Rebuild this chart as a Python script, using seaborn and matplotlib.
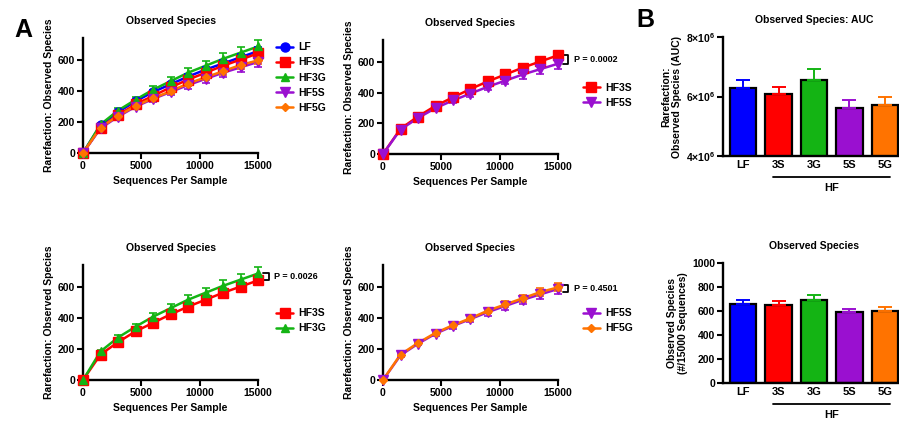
import numpy as np
import pandas as pd
import matplotlib
matplotlib.use("Agg")
import matplotlib.pyplot as plt
import matplotlib.transforms as mtransforms
from matplotlib.lines import Line2D
import seaborn as sns

# %% Data

depth = [0, 1500, 3000, 4500, 6000, 7500, 9000, 10500, 12000, 13500, 15000]

lf = [0, 180, 265, 335, 395, 445, 495, 540, 580, 620, 660]
hf3s = [0, 165, 245, 315, 370, 425, 475, 520, 565, 605, 645]
hf3g = [0, 185, 275, 345, 410, 465, 520, 565, 610, 650, 690]
hf5s = [0, 160, 235, 300, 350, 395, 440, 480, 520, 555, 590]
hf5g = [0, 165, 240, 305, 355, 400, 450, 490, 530, 570, 600]

lf_err = [0, 8, 10, 12, 14, 16, 18, 20, 22, 24, 26]
hf3s_err = [0, 8, 10, 12, 13, 15, 17, 19, 21, 23, 25]
hf3g_err = [0, 10, 14, 18, 22, 26, 30, 33, 36, 38, 42]
hf5s_err = [0, 8, 11, 14, 17, 20, 23, 25, 27, 30, 32]
hf5g_err = [0, 8, 10, 12, 14, 16, 18, 20, 22, 24, 26]

groups = ["LF", "HF3S", "HF3G", "HF5S", "HF5G"]
bar_labels = ["LF", "3S", "3G", "5S", "5G"]

auc = [6.30e6, 6.08e6, 6.55e6, 5.60e6, 5.70e6]
auc_err = [0.27e6, 0.25e6, 0.37e6, 0.27e6, 0.28e6]

obs15k = [660, 650, 690, 590, 600]
obs15k_err = [30, 30, 40, 30, 32]

colors = {"LF": "#0000ff", "HF3S": "#ff0000", "HF3G": "#14b414",
          "HF5S": "#9a10d0", "HF5G": "#ff7300"}
markers = {"LF": "o", "HF3S": "s", "HF3G": "^", "HF5S": "v", "HF5G": "D"}
msizes = {"LF": 6.5, "HF3S": 6.5, "HF3G": 5.5, "HF5S": 6.5, "HF5G": 4.5}

means = {"LF": lf, "HF3S": hf3s, "HF3G": hf3g, "HF5S": hf5s, "HF5G": hf5g}
errs = {"LF": lf_err, "HF3S": hf3s_err, "HF3G": hf3g_err,
        "HF5S": hf5s_err, "HF5G": hf5g_err}

rows = []
for g in groups:
    for d, v, e in zip(depth, means[g], errs[g]):
        rows.append({"depth": d, "obs": v, "err": e, "group": g})
df = pd.DataFrame(rows)

# %% Style

sns.set_theme(style="ticks")
plt.rcParams["font.family"] = ["Liberation Sans", "DejaVu Sans"]
plt.rcParams["font.weight"] = "bold"
plt.rcParams["axes.labelweight"] = "bold"
plt.rcParams["axes.titleweight"] = "bold"
plt.rcParams["text.color"] = "black"
plt.rcParams["axes.labelcolor"] = "black"
plt.rcParams["xtick.color"] = "black"
plt.rcParams["ytick.color"] = "black"
plt.rcParams["mathtext.fontset"] = "custom"
plt.rcParams["mathtext.bf"] = "Liberation Sans:bold"
plt.rcParams["mathtext.rm"] = "Liberation Sans:bold"

W, H = 899, 422
fig = plt.figure(figsize=(W / 100, H / 100), dpi=100)


def px_axes(x0, y_bottom, w, h):
    return fig.add_axes([x0 / W, (H - y_bottom) / H, w / W, h / H])


def style_axes(ax):
    sns.despine(ax=ax)
    for s in ["left", "bottom"]:
        ax.spines[s].set_linewidth(1.7)
        ax.spines[s].set_color("black")
    ax.tick_params(width=1.5, length=4, labelsize=7.5, pad=1.5, colors="black")
    for lab in ax.get_xticklabels() + ax.get_yticklabels():
        lab.set_fontweight("bold")


def rarefaction(ax, sub, legend_anchor, pval=None):
    d = df[df["group"].isin(sub)]
    sns.lineplot(data=d, x="depth", y="obs", hue="group", hue_order=sub,
                 palette=colors, ax=ax, linewidth=1.8, legend=False)
    for g in sub:
        gd = d[d["group"] == g]
        ax.errorbar(gd["depth"], gd["obs"], yerr=gd["err"], fmt=markers[g],
                    color=colors[g], ms=msizes[g], capsize=3, elinewidth=1.2,
                    capthick=1.2, clip_on=False, zorder=3)
    ax.set_xlim(0, 15000)
    ax.set_ylim(0, 745)
    ax.set_xticks([0, 5000, 10000, 15000])
    ax.set_yticks([0, 200, 400, 600])
    ax.set_xlabel("Sequences Per Sample", fontsize=7.5, labelpad=4)
    ax.set_ylabel("Rarefaction: Observed Species", fontsize=7.5, labelpad=3)
    ax.set_title("Observed Species", fontsize=7.5, pad=10)
    style_axes(ax)
    handles = [Line2D([], [], color=colors[g], marker=markers[g],
                      ms=msizes[g], lw=1.8) for g in sub]
    leg = ax.legend(handles, sub, loc="upper left", bbox_to_anchor=legend_anchor,
                    frameon=False, fontsize=7.5, handlelength=1.6,
                    handletextpad=0.5, labelspacing=0.5, borderaxespad=0)
    for t in leg.get_texts():
        t.set_fontweight("bold")
    if pval is not None:
        ends = [means[g][-1] for g in sub]
        mid = (max(ends) + min(ends)) / 2
        half = max((max(ends) - min(ends)) / 2, 22)
        xb = [15400, 15900, 15900, 15400]
        ax.plot(xb, [mid + half, mid + half, mid - half, mid - half],
                color="black", lw=1.3, clip_on=False)
        ax.text(16400, mid, "P = " + pval, fontsize=6.5,
                fontweight="bold", va="center", ha="left")


def bars(ax, vals, errv, ylim, yticks, ylabel, title, ticklabels=None):
    bd = pd.DataFrame({"label": bar_labels, "val": vals})
    sns.barplot(data=bd, x="label", y="val", hue="label",
                palette=[colors[g] for g in groups], saturation=1,
                edgecolor="black", linewidth=1.6, width=0.74, ax=ax,
                legend=False)
    for i, g in enumerate(groups):
        ax.errorbar(i, vals[i], yerr=[[0], [errv[i]]], fmt="none",
                    ecolor=colors[g], elinewidth=1.4, capsize=5, capthick=1.4,
                    zorder=1)
    ax.set_xlim(-0.57, 4.57)
    ax.set_ylim(*ylim)
    ax.set_yticks(yticks)
    if ticklabels is not None:
        ax.set_yticklabels(ticklabels)
    ax.set_xlabel("")
    ax.set_ylabel(ylabel, fontsize=7.5, labelpad=3, linespacing=1.1)
    ax.set_title(title, fontsize=7.5, pad=10)
    style_axes(ax)
    ax.tick_params(axis="x", length=0, labelsize=8, pad=3)
    trans = mtransforms.blended_transform_factory(ax.transData, ax.transAxes)
    ax.plot([0.85, 4.15], [-0.175, -0.175], color="black", lw=1.3,
            transform=trans, clip_on=False)
    ax.text(2.5, -0.27, "HF", transform=trans, ha="center", va="center",
            fontsize=8, fontweight="bold")


# %% Panel A

ax1 = px_axes(83, 153, 175, 115)
rarefaction(ax1, groups, (1.08, 1.0))

ax2 = px_axes(383, 154, 175, 114)
rarefaction(ax2, ["HF3S", "HF5S"], (1.12, 0.66), pval="0.0002")

ax3 = px_axes(83, 380, 175, 115)
rarefaction(ax3, ["HF3S", "HF3G"], (1.08, 0.66), pval="0.0026")

ax4 = px_axes(383, 380, 175, 115)
rarefaction(ax4, ["HF5S", "HF5G"], (1.12, 0.66), pval="0.4501")

# %% Panel B

axb1 = px_axes(723, 156, 182, 119)
bars(axb1, auc, auc_err, (4e6, 8e6), [4e6, 6e6, 8e6],
     "Rarefaction:\nObserved Species (AUC)", "Observed Species: AUC",
     [r"$\mathbf{4{\times}10^{6}}$", r"$\mathbf{6{\times}10^{6}}$",
      r"$\mathbf{8{\times}10^{6}}$"])

axb2 = px_axes(723, 383, 182, 120)
bars(axb2, obs15k, obs15k_err, (0, 1000), [0, 200, 400, 600, 800, 1000],
     "Observed Species\n(#/15000 Sequences)", "Observed Species")

fig.text(14 / W, 1 - 30 / H, "A", fontsize=18, fontweight="bold", va="center")
fig.text(636 / W, 1 - 20 / H, "B", fontsize=18, fontweight="bold", va="center")

fig.savefig("out.png", dpi=100)
